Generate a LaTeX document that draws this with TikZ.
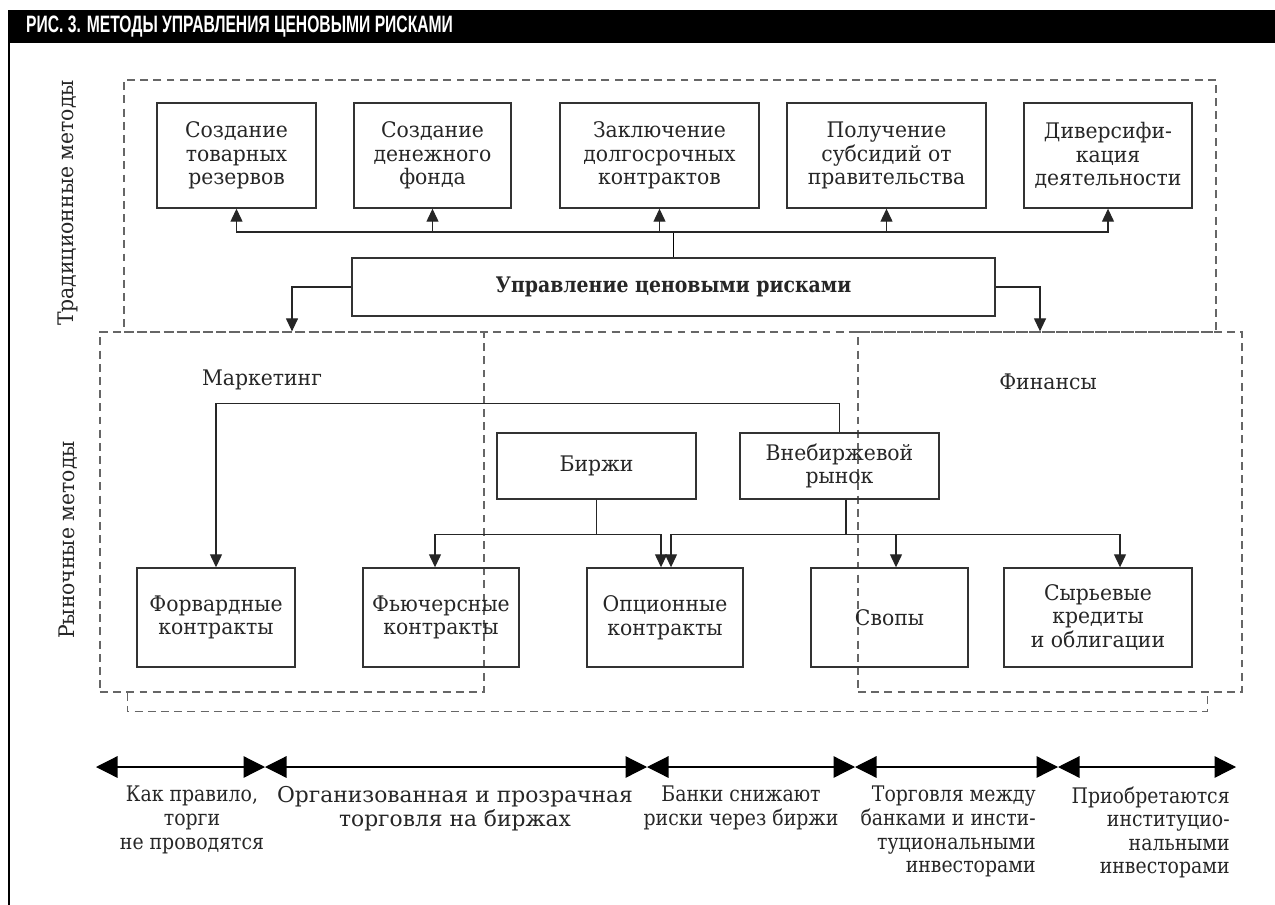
\documentclass[tikz,border=0pt]{standalone}
\usepackage{fontspec}
\setmainfont[FakeStretch=0.95]{DejaVu Serif}
\newfontfamily\plainfont{DejaVu Serif}
\newfontfamily\narrowfont[FakeStretch=0.88]{DejaVu Serif}
\newfontfamily\headfont[FakeStretch=0.66]{Liberation Sans}
\usetikzlibrary{arrows.meta,calc}

\begin{document}
\begin{tikzpicture}[x=0.2mm,y=-0.2mm,
  every node/.style={font=\fontsize{12.2}{13.4}\selectfont, text=black!85},
  box/.style={draw=black!80, line width=0.8pt, align=center, inner sep=2pt},
  grp/.style={draw=black!60, dash pattern=on 4.5pt off 3pt, line width=0.7pt, inner sep=0pt},
  arr/.style={line width=0.7pt, draw=black!85, -{Triangle[length=2.6mm,width=2.4mm]}},
  dbl/.style={line width=0.7pt, {Triangle[length=4.3mm,width=4.3mm]}-{Triangle[length=4.3mm,width=4.3mm]}},
  note/.style={anchor=north, inner sep=0pt, align=center}]
  \useasboundingbox (0,0) rectangle (1275,905);

  \fill[black] (8,10) rectangle (1275,43);
  \node[anchor=west, text=white, font=\headfont\bfseries\fontsize{13.5}{13.5}\selectfont] (title) at (20,27) {РИС. 3. МЕТОДЫ УПРАВЛЕНИЯ ЦЕНОВЫМИ РИСКАМИ};
  \draw[line width=1.4pt] (9,43) -- (9,905);

  \node[grp, minimum width=218.4mm, minimum height=50.4mm] (trad) at (670,206) {};
  \node[grp, minimum width=76.8mm, minimum height=72mm] (mkt) at (292,512) {};
  \node[grp, minimum width=76.8mm, minimum height=72mm] (fin) at (1050,512) {};
  \draw[grp] (mkt.south west) ++(28,0) -- ++(0,19) -| ([xshift=-7mm]fin.south east);

  \node[rotate=90] (tradlbl) at (68,203) {Традиционные методы};
  \node[rotate=90] (mktlbl) at (68,540) {Рыночные методы};
  \node (mkttxt) at (262,380) {Маркетинг};
  \node (fintxt) at (1048,382) {Финансы};

  \node[box, minimum width=31.8mm, minimum height=21mm] (res) at (236.5,155.5) {Создание\\товарных\\резервов};
  \node[box, minimum width=31.4mm, minimum height=21mm] (fund) at (432.5,155.5) {Создание\\денежного\\фонда};
  \node[box, minimum width=39.8mm, minimum height=21mm] (contr) at (659.5,155.5) {Заключение\\долгосрочных\\контрактов};
  \node[box, minimum width=39.8mm, minimum height=21mm] (subs) at (886.5,155.5) {Получение\\субсидий от\\правительства};
  \node[box, minimum width=33.6mm, minimum height=21mm] (div) at (1108,155.5) {Диверси\-фи-\\кация\\деятельности};

  \node[box, minimum width=128.6mm, minimum height=11.6mm, font=\narrowfont\fontsize{12.2}{13.4}\selectfont\bfseries] (mgmt) at (673.5,287) {Управление ценовыми рисками};

  \coordinate (hub) at (mgmt.north |- 0,232);
  \draw[line width=1pt] (mgmt.north) -- (hub);
  \foreach \b in {res,fund,contr,subs,div}
    \draw[arr] (hub) -| (\b.south);
  \draw[arr] (mgmt.west) -| (mkt.north);
  \draw[arr] (mgmt.east) -| ([xshift=-2mm]fin.north);

  \node[box, minimum width=39.8mm, minimum height=13.2mm] (exch) at (596.5,466) {Биржи};
  \node[box, minimum width=39.8mm, minimum height=13.2mm] (otc) at (839.5,466) {Внебиржевой\\рынок};

  \node[box, minimum width=31.6mm, minimum height=19.8mm] (fwd) at (216,617.5) {Форвардные\\контракты};
  \node[box, minimum width=31.2mm, minimum height=19.8mm] (fut) at (441,617.5) {Фьючерсные\\контракты};
  \node[box, minimum width=31.2mm, minimum height=19.8mm] (opt) at (665,617.5) {Опционные\\контракты};
  \node[box, minimum width=31.4mm, minimum height=19.8mm] (swp) at (889.5,617.5) {Свопы};
  \node[box, minimum width=37.6mm, minimum height=19.8mm] (raw) at (1098,617.5) {Сырьевые\\кредиты\\и облигации};

  \draw[arr] (otc.north) -- ++(0,-29) -| (fwd.north);
  \draw[arr] (exch.south) -- ++(0,35) -| ([xshift=-1.2mm]fut.north);
  \draw[arr] (exch.south) -- ++(0,35) -| ([xshift=-0.8mm]opt.north);
  \draw[arr] ([xshift=1.3mm]otc.south) -- ++(0,35) -| ([xshift=1.2mm]opt.north);
  \foreach \b/\d in {swp/1.3mm,raw/4.4mm}
    \draw[arr] ([xshift=1.3mm]otc.south) -- ++(0,35) -| ([xshift=\d]\b.north);

  \foreach \x [count=\i from 0] in {96,265,647,855,1058,1236}
    \coordinate (p\i) at (\x,767);
  \foreach \a/\b in {p0/p1,p1/p2,p2/p3,p3/p4,p4/p5}
    \draw[dbl] (\a) -- (\b);

  \node[note, font=\narrowfont\fontsize{12.2}{13.4}\selectfont] (t1) at (192,786) {Как правило,\\торги\\не проводятся};
  \node[note, font=\plainfont\fontsize{12.4}{13.4}\selectfont] (t2) at (455,786) {Организованная и прозрачная\\торговля на биржах};
  \node[note, font=\narrowfont\fontsize{12.2}{13.4}\selectfont] (t3) at (741,786) {Банки снижают\\риски через биржи};
  \node[note, anchor=north east, align=right, font=\narrowfont\fontsize{12.2}{13.4}\selectfont] (t4) at (1036,786) {Торговля между\\банками и инсти-\\туциональными\\инвесторами};
  \node[note, anchor=north east, align=right, font=\narrowfont\fontsize{12.2}{13.4}\selectfont] (t5) at (1230,786) {Приобретаются\\институцио-\\нальными\\инвесторами};
\end{tikzpicture}
\end{document}
